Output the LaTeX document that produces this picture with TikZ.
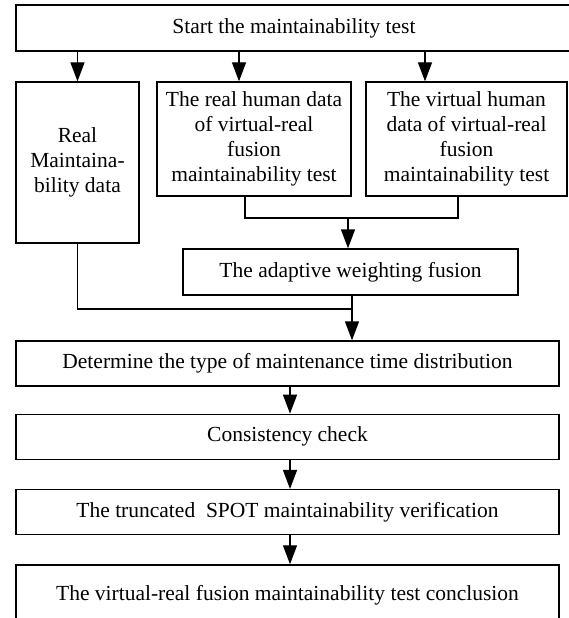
\documentclass[tikz,border=0pt]{standalone}
\usepackage{fontspec}
\setmainfont{Liberation Serif}
\usetikzlibrary{positioning, arrows.meta}

\begin{document}
\begin{tikzpicture}[x=1pt, y=-1pt,
		box/.style={draw, line width=1.3pt, inner sep=0pt, align=center,
			font=\fontsize{21.5}{25}\selectfont},
		wide/.style={box, minimum width=543pt, minimum height=45pt},
		arr/.style={line width=1.3pt, -{Triangle[length=19pt, width=14pt]}},
		link/.style={line width=1.3pt}]
		\useasboundingbox (0,0) rectangle (568,618);
		
		\node[box, minimum width=556pt, minimum height=46pt] (start) at (294,28) {Start the maintainability test};
		
		\node[box, minimum width=123pt, minimum height=161pt] (realdata) at (77.5,162.5) {Real\\Maintaina-\\bility data};
		\node[box, minimum width=194pt, minimum height=114pt] (realhuman) at (254,139) {The real human data\\of virtual-real\\fusion\\maintainability test};
		\node[box, minimum width=201pt, minimum height=114pt] (virthuman) at (466.5,139) {The virtual human\\data of virtual-real\\fusion\\maintainability test};
		
		\node[box, minimum width=335pt, minimum height=46pt] (fusion) at (350.5,272) {The adaptive weighting fusion};
		
		\node[wide] (determine) at (287.5,363.5) {Determine the type of maintenance time distribution};
		\node[wide, below=27pt of determine] (consistency) {Consistency check};
		\node[wide, below=29pt of consistency] (spot) {The truncated\ \ SPOT maintainability verification};
		\node[wide, minimum height=60pt, below=29pt of spot] (conclusion) {The virtual-real fusion maintainability test conclusion};
		
		% from the start box
		\draw[arr] (start.south -| realdata.north) -- (realdata.north);
		\draw[arr] ([xshift=-15pt]realhuman.north |- start.south) -- ([xshift=-15pt]realhuman.north);
		\draw[arr] ([xshift=-41.5pt]virthuman.north |- start.south) -- ([xshift=-41.5pt]virthuman.north);
		
		% the two human data boxes join
		\coordinate (join) at (348,218);
		\draw[link] ([xshift=-9pt]realhuman.south) |- (join);
		\draw[link] ([xshift=-8.5pt]virthuman.south) |- (join);
		\draw[arr] (join) -- (join |- fusion.north);
		
		% real data and fusion meet
		\coordinate (meet) at (352,309);
		\draw[link] (realdata.south) |- (meet);
		\draw[link] (fusion.south -| meet) -- (meet);
		\draw[arr] (meet) -- (meet |- determine.north);
		
		\draw[arr] ([xshift=2.5pt]determine.south) -- ([xshift=2.5pt]consistency.north);
		\draw[arr] ([xshift=2.5pt]consistency.south) -- ([xshift=2.5pt]spot.north);
		\draw[arr] ([xshift=2.5pt]spot.south) -- ([xshift=2.5pt]conclusion.north);
	\end{tikzpicture}
\end{document}
